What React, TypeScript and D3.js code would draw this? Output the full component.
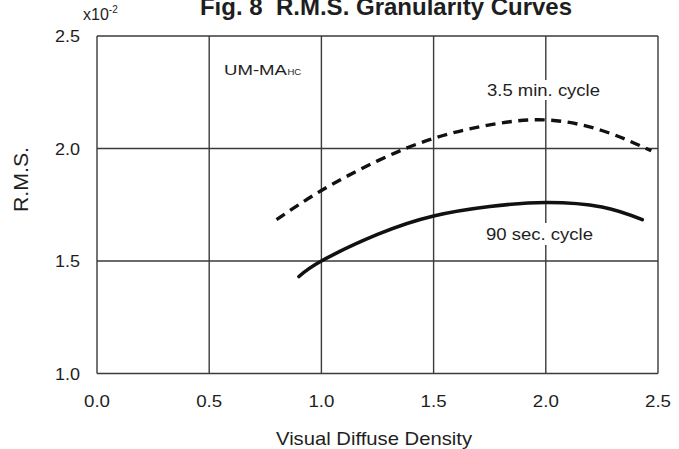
import React from 'react';
import * as d3 from 'd3';

// R.M.S. granularity (x10^-2) against visual diffuse density
const xTicks = [0, 0.5, 1.0, 1.5, 2.0, 2.5];
const yTicks = [1.0, 1.5, 2.0, 2.5];

const cycle35Density = [0.8, 1.0, 1.25, 1.5, 1.75, 2.0, 2.25, 2.47];
const cycle35Rms = [1.684, 1.813, 1.945, 2.045, 2.105, 2.127, 2.08, 1.99];

const cycle90Density = [0.9, 1.0, 1.25, 1.5, 1.75, 2.0, 2.25, 2.43];
const cycle90Rms = [1.431, 1.5, 1.618, 1.7, 1.742, 1.76, 1.74, 1.684];

const FONT = 'Liberation Sans, Arial, Helvetica, sans-serif';
const INK = '#1e1e1e';
const GRID = '#3a3a3a';

export default function App() {
  const width = 679;
  const height = 449;
  const x = d3.scaleLinear().domain([0, 2.5]).range([97, 658]);
  const y = d3.scaleLinear().domain([1.0, 2.5]).range([373.5, 36]);

  const line = d3
    .line<[number, number]>()
    .x(d => x(d[0]))
    .y(d => y(d[1]))
    .curve(d3.curveNatural);

  const dashed = line(cycle35Density.map((d, i) => [d, cycle35Rms[i]]) as [number, number][]);
  const solid = line(cycle90Density.map((d, i) => [d, cycle90Rms[i]]) as [number, number][]);

  return (
    <svg
      width={width}
      height={height}
      style={{ position: 'absolute', left: 0, top: 0, background: '#fff' }}
      fontFamily={FONT}
    >
      <rect width={width} height={height} fill="#fff" />

      {/* grid */}
      {xTicks.map(t => (
        <line key={'gx' + t} x1={x(t)} x2={x(t)} y1={y(2.5)} y2={y(1.0)} stroke={GRID} strokeWidth={1.4} />
      ))}
      {yTicks.map(t => (
        <line key={'gy' + t} x1={x(0)} x2={x(2.5)} y1={y(t)} y2={y(t)} stroke={GRID} strokeWidth={1.4} />
      ))}

      {/* label backgrounds that break the grid */}
      <rect x={484} y={80} width={120} height={20} fill="#fff" />
      <rect x={483} y={223} width={114} height={22} fill="#fff" />

      {/* curves */}
      <path d={dashed || ''} fill="none" stroke="#111" strokeWidth={3.4} strokeDasharray="10 6.5" />
      <path d={solid || ''} fill="none" stroke="#111" strokeWidth={3.6} strokeLinecap="round" />

      {/* tick labels */}
      {yTicks.map(t => (
        <text key={'ty' + t} x={80} y={y(t) + 6} textAnchor="end" fontSize={17} fill={INK}
          textLength={25} lengthAdjust="spacingAndGlyphs">
          {t.toFixed(1)}
        </text>
      ))}
      {xTicks.map(t => (
        <text key={'tx' + t} x={x(t) - 13} y={407} fontSize={17} fill={INK}
          textLength={26} lengthAdjust="spacingAndGlyphs">
          {t.toFixed(1)}
        </text>
      ))}

      {/* axis titles */}
      <text x={276} y={445} fontSize={19} fill={INK} textLength={196} lengthAdjust="spacingAndGlyphs">
        Visual Diffuse Density
      </text>
      <text transform="translate(28,212) rotate(-90)" fontSize={20} fill={INK}
        textLength={65} lengthAdjust="spacingAndGlyphs">
        R.M.S.
      </text>

      {/* scale factor */}
      <text x={83} y={20} fontSize={16} fill={INK}>
        x10
        <tspan fontSize={10} dy={-7}>-2</tspan>
      </text>

      {/* title */}
      <text x={386} y={15} textAnchor="middle" fontSize={24} fontWeight="bold" fill={INK}
        style={{ whiteSpace: 'pre' }}>
        {'Fig. 8  R.M.S. Granularity Curves'}
      </text>

      {/* annotations */}
      <text x={224} y={74.5} fontSize={15.5} fill={INK} textLength={63} lengthAdjust="spacingAndGlyphs">
        UM-MA
      </text>
      <text x={287.5} y={74.5} fontSize={9.5} fill={INK}>HC</text>
      <text x={487} y={95.5} fontSize={16.5} fill={INK} textLength={113} lengthAdjust="spacingAndGlyphs">
        3.5 min. cycle
      </text>
      <text x={486} y={240} fontSize={16.5} fill={INK} textLength={107} lengthAdjust="spacingAndGlyphs">
        90 sec. cycle
      </text>
    </svg>
  );
}
